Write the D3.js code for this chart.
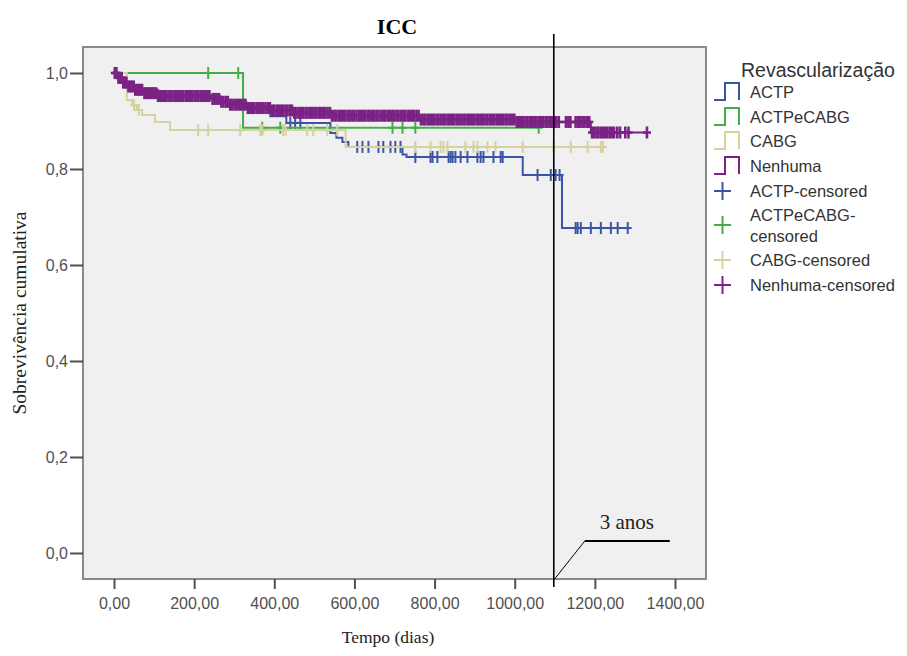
<!DOCTYPE html>
<html>
<head>
<meta charset="utf-8">
<script src="https://cdn.jsdelivr.net/npm/d3@7"></script>
<style>
  body { margin: 0; background: #fff; }
  .tick text { font-family: "Liberation Sans", Arial, sans-serif; font-size: 16px; fill: #505050; }
  .tick line { stroke: #505050; stroke-width: 2; }
  .serif { font-family: "Liberation Serif", "Times New Roman", serif; fill: #222; }
  .leg { font-family: "Liberation Sans", Arial, sans-serif; fill: #333; }
</style>
</head>
<body>
<div id="chart"></div>
<script>
// axis ticks
const xTicks = [0, 200, 400, 600, 800, 1000, 1200, 1400];
const yTicks = [0, 0.2, 0.4, 0.6, 0.8, 1.0];

// series names and colours
const groups = ["ACTP", "ACTPeCABG", "CABG", "Nenhuma"];
const colors = ["#3b55a6", "#45ad48", "#d6d2a0", "#7a2384"];

// step data: event times (dias) and survival after each event
const actpTimes = [0, 20, 50, 110, 265, 330, 390, 430, 540, 555, 570, 585, 720, 730, 1020, 1118];
const actpSurv = [1, 0.98, 0.965, 0.952, 0.94, 0.93, 0.91, 0.896, 0.875, 0.865, 0.856, 0.846, 0.83, 0.825, 0.7875, 0.677];
const actpEnd = 1282;
const actpCensored = [440, 452, 465, 607, 620, 635, 660, 672, 690, 702, 715, 752, 790, 795, 807, 835, 840, 845, 852, 865, 882, 907, 915, 922, 947, 965, 970, 1057, 1090, 1102, 1112, 1152, 1157, 1165, 1190, 1215, 1240, 1257, 1282];

const mixTimes = [0, 322];
const mixSurv = [1, 0.886];
const mixEnd = 1060;
const mixCensored = [235, 310, 370, 415, 695, 720, 752, 1060];

const cabgTimes = [0, 32, 45, 57, 70, 102, 140, 578];
const cabgSurv = [1, 0.944, 0.933, 0.923, 0.9125, 0.898, 0.881, 0.846];
const cabgEnd = 1220;
const cabgCensored = [50, 62, 210, 235, 315, 365, 370, 422, 428, 482, 497, 532, 557, 752, 790, 815, 822, 832, 877, 897, 907, 932, 952, 1020, 1097, 1140, 1182, 1215, 1220];

const nenTimes = [0, 8, 20, 35, 50, 75, 110, 240, 265, 290, 330, 390, 450, 540, 765, 1000, 1190];
const nenSurv = [1, 0.99, 0.98, 0.972, 0.965, 0.958, 0.952, 0.946, 0.94, 0.934, 0.927, 0.922, 0.917, 0.911, 0.903, 0.898, 0.876];
const nenEnd = 1330;
const nenCensored = [2, 6, 11, 14, 19, 23, 27, 31, 36, 40, 44, 49, 53, 58, 62, 67, 70, 76, 81, 85, 90, 95, 99,
  105, 110, 114, 119, 125, 130, 136, 141, 146, 152, 157, 163, 168, 173, 179, 184, 190, 195, 201, 206, 211, 217,
  222, 228, 233, 238, 246, 251, 256, 262, 268, 273, 279, 284, 290, 295, 301, 306, 312, 317, 323, 328, 334, 339,
  345, 350, 356, 361, 367, 372, 378, 384, 389, 395, 400, 406, 411, 417, 422, 428, 433, 439, 444, 450, 455, 461,
  467, 472, 478, 483, 489, 494, 500, 505, 511, 516, 522, 527, 533, 539, 544, 550, 555, 561, 566, 572, 577, 583,
  588, 594, 599, 605, 611, 616, 622, 627, 633, 638, 644, 649, 655, 660, 666, 672, 677, 683, 688, 694, 699, 705,
  710, 716, 722, 727, 733, 738, 744, 749, 755, 760, 766, 772, 777, 783, 788, 794, 799, 805, 810, 816, 822, 827,
  833, 838, 844, 849, 855, 860, 866, 872, 877, 883, 888, 894, 899, 905, 910, 916, 921, 927, 932, 938, 944, 949,
  955, 960, 966, 971, 977, 982, 988, 994, 999, 1005, 1010, 1016, 1021, 1027, 1032, 1038, 1043, 1049, 1054, 1060,
  1066, 1071, 1077, 1082, 1088, 1093, 1099, 1104, 1110, 1128, 1134, 1139, 1152, 1158, 1163, 1169, 1174, 1180,
  1186, 1193, 1198, 1204, 1209, 1215, 1220, 1226, 1231, 1237, 1242, 1248, 1256, 1263, 1276, 1284, 1330];

const threeYears = 1095;

const drawChart = function() {
    const W = 907, H = 656;
    const frame = {left: 83, top: 47, right: 706, bottom: 579};
    const width = frame.right - frame.left,
        height = frame.bottom - frame.top;

    const series = [
        {times: actpTimes, surv: actpSurv, end: actpEnd, cens: actpCensored, sw: 2},
        {times: mixTimes, surv: mixSurv, end: mixEnd, cens: mixCensored, sw: 2},
        {times: cabgTimes, surv: cabgSurv, end: cabgEnd, cens: cabgCensored, sw: 2},
        {times: nenTimes, surv: nenSurv, end: nenEnd, cens: nenCensored, sw: 2.6}
    ];

    const x = d3.scaleLinear().domain([0, 1400]).range([31, 592]);
    const y = d3.scaleLinear().domain([0, 1]).range([506, 26]);

    const svg = d3.select("#chart").append("svg")
        .attr("width", W)
        .attr("height", H);

    const g = svg.append("g")
        .attr("transform", "translate(" + frame.left + "," + frame.top + ")");

    g.append("rect")
        .attr("width", width)
        .attr("height", height)
        .attr("fill", "#f0f0f0");

    const line = d3.line()
        .x(function(d) { return x(d[0]); })
        .y(function(d) { return y(d[1]); })
        .curve(d3.curveStepAfter);

    const bis = d3.bisector(function(d) { return d; }).right;

    series.forEach(function(s, i) {
        const pts = s.times.map(function(t, k) { return [t, s.surv[k]]; });
        pts.push([s.end, s.surv[s.surv.length - 1]]);
        const col = colors[i];

        g.append("path")
            .attr("d", line(pts))
            .attr("fill", "none")
            .attr("stroke", col)
            .attr("stroke-width", 2);

        // censored marks
        const cg = g.append("g").attr("stroke", col).attr("stroke-width", s.sw);
        s.cens.forEach(function(t) {
            const sv = s.surv[Math.max(0, bis(s.times, t) - 1)];
            const cx = x(t), cy = y(sv);
            cg.append("line").attr("x1", cx).attr("x2", cx).attr("y1", cy - 6).attr("y2", cy + 6);
            cg.append("line").attr("x1", cx - 4).attr("x2", cx + 4).attr("y1", cy).attr("y2", cy);
        });
    });

    // frame
    g.append("rect")
        .attr("width", width)
        .attr("height", height)
        .attr("fill", "none")
        .attr("stroke", "#8a8a8a")
        .attr("stroke-width", 2);

    const fmt2 = function(d) { return d3.format(".2f")(d).replace(".", ","); };
    const fmt1 = function(d) { return d3.format(".1f")(d).replace(".", ","); };

    const xAxis = g.append("g")
        .attr("transform", "translate(0," + height + ")")
        .call(d3.axisBottom(x).tickValues(xTicks).tickFormat(fmt2).tickSize(10).tickSizeOuter(0).tickPadding(9));
    xAxis.select(".domain").remove();

    const yAxis = g.append("g")
        .call(d3.axisLeft(y).tickValues(yTicks).tickFormat(fmt1).tickSize(13).tickSizeOuter(0).tickPadding(2));
    yAxis.select(".domain").remove();

    // 3 anos marker
    const xv = frame.left + x(threeYears) + 1;
    svg.append("line")
        .attr("x1", xv).attr("x2", xv)
        .attr("y1", 34).attr("y2", 587)
        .attr("stroke", "#000").attr("stroke-width", 1.6);
    svg.append("line")
        .attr("x1", xv).attr("x2", xv + 31)
        .attr("y1", 580).attr("y2", 541)
        .attr("stroke", "#000").attr("stroke-width", 1);
    svg.append("line")
        .attr("x1", xv + 31).attr("x2", xv + 116)
        .attr("y1", 541).attr("y2", 541)
        .attr("stroke", "#000").attr("stroke-width", 2);
    svg.append("text")
        .attr("class", "serif")
        .attr("x", xv + 73)
        .attr("y", 529)
        .style("text-anchor", "middle")
        .style("font-size", "21px")
        .text("3 anos");

    // title
    svg.append("text")
        .attr("class", "serif")
        .attr("x", 397)
        .attr("y", 34)
        .style("text-anchor", "middle")
        .style("font-size", "22px")
        .style("font-weight", "bold")
        .style("fill", "#000")
        .text("ICC");

    // x axis label
    svg.append("text")
        .attr("class", "serif")
        .attr("x", 388)
        .attr("y", 643)
        .style("text-anchor", "middle")
        .style("font-size", "17.5px")
        .text("Tempo (dias)");

    // y axis label
    svg.append("text")
        .attr("class", "serif")
        .attr("transform", "translate(26,313) rotate(-90)")
        .style("text-anchor", "middle")
        .style("font-size", "19.5px")
        .text("Sobrevivência cumulativa");

    // legend
    const leg = svg.append("g");
    leg.append("text")
        .attr("class", "leg")
        .attr("x", 741)
        .attr("y", 77)
        .style("font-size", "19.5px")
        .text("Revascularização");

    const stepY = [92, 117, 141, 166];
    groups.forEach(function(name, i) {
        const cy = stepY[i];
        leg.append("path")
            .attr("d", "M714," + (cy + 8) + "H725V" + (cy - 9) + "H739V" + (cy + 8))
            .attr("fill", "none")
            .attr("stroke", colors[i])
            .attr("stroke-width", 2);
        leg.append("text")
            .attr("class", "leg")
            .attr("x", 750)
            .attr("y", cy + 6)
            .style("font-size", "16.5px")
            .text(name);
    });

    const crossY = [191, 225, 260, 285];
    const crossLabels = [["ACTP-censored"], ["ACTPeCABG-", "censored"], ["CABG-censored"], ["Nenhuma-censored"]];
    groups.forEach(function(name, i) {
        const cy = crossY[i];
        leg.append("line")
            .attr("x1", 714).attr("x2", 731).attr("y1", cy).attr("y2", cy)
            .attr("stroke", colors[i]).attr("stroke-width", 2);
        leg.append("line")
            .attr("x1", 722.5).attr("x2", 722.5).attr("y1", cy - 9).attr("y2", cy + 9)
            .attr("stroke", colors[i]).attr("stroke-width", 2);
        const lines = crossLabels[i];
        lines.forEach(function(t, k) {
            leg.append("text")
                .attr("class", "leg")
                .attr("x", 750)
                .attr("y", cy + 6 + (k - (lines.length - 1) / 2) * 21)
                .style("font-size", "16.5px")
                .text(t);
        });
    });
};

drawChart();
</script>
</body>
</html>
